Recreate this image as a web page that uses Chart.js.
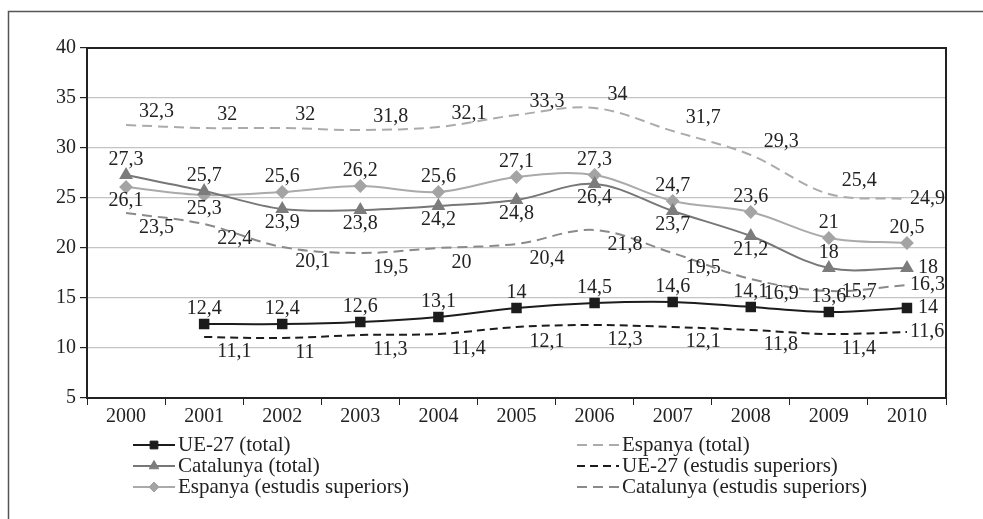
<!DOCTYPE html>
<html>
<head>
<meta charset="utf-8">
<script src="https://cdn.jsdelivr.net/npm/chart.js@4.4.0/dist/chart.umd.min.js"></script>
<style>
  html, body { margin: 0; padding: 0; background: #fff; }
  #wrap { width: 983px; height: 519px; }
</style>
</head>
<body>
<div id="wrap"><canvas id="chart" width="983" height="519"></canvas></div>
<script>
// dades llegides del gràfic
const years = ['2000','2001','2002','2003','2004','2005','2006','2007','2008','2009','2010'];
const ueTotal      = [null, 12.4, 12.4, 12.6, 13.1, 14, 14.5, 14.6, 14.1, 13.6, 14];
const espTotal     = [32.3, 32, 32, 31.8, 32.1, 33.3, 34, 31.7, 29.3, 25.4, 24.9];
const catTotal     = [27.3, 25.7, 23.9, 23.8, 24.2, 24.8, 26.4, 23.7, 21.2, 18, 18];
const ueSuperiors  = [null, 11.1, 11, 11.3, 11.4, 12.1, 12.3, 12.1, 11.8, 11.4, 11.6];
const espSuperiors = [26.1, 25.3, 25.6, 26.2, 25.6, 27.1, 27.3, 24.7, 23.6, 21, 20.5];
const catSuperiors = [23.5, 22.4, 20.1, 19.5, 20, 20.4, 21.8, 19.5, 16.9, 15.7, 16.3];
const yTicks = [5, 10, 15, 20, 25, 30, 35, 40];

const FONT = '"Liberation Serif", "DejaVu Serif", serif';

// on va cada etiqueta (def = per defecte, i excepcions per índex)
const labelPlan = [
  { def: 'n', 10: 'e' },                 // UE-27 (total)
  { def: 'ne', 10: 'e' },                // Espanya (total)
  { def: 's', 0: 'n', 1: 'n', 9: 'n', 10: 'e' }, // Catalunya (total)
  { def: 'se', 10: 'e' },                // UE-27 (estudis superiors)
  { def: 'n', 0: 's', 1: 's' },          // Espanya (estudis superiors)
  { def: 'se', 9: 'ex', 10: 'e' }        // Catalunya (estudis superiors)
];

function fmt(v) { return String(v).replace('.', ','); }

const valueLabels = {
  id: 'valueLabels',
  afterDatasetsDraw(chart) {
    const ctx = chart.ctx;
    ctx.save();
    ctx.font = '20px ' + FONT;
    ctx.fillStyle = '#222';
    ctx.textBaseline = 'middle';
    chart.data.datasets.forEach((ds, di) => {
      const meta = chart.getDatasetMeta(di);
      const plan = labelPlan[di];
      const endDx = ds.pointRadius > 0 ? 11 : 3;
      meta.data.forEach((pt, i) => {
        const v = ds.data[i];
        if (v === null || v === undefined) return;
        const pos = plan[i] || plan.def;
        const txt = fmt(v);
        let x = pt.x, y = pt.y;
        ctx.textAlign = 'center';
        if (pos === 'n') { y -= 15; }
        else if (pos === 's') { y += 14; }
        else if (pos === 'ne') { ctx.textAlign = 'left'; x += 13; y -= 13; }
        else if (pos === 'se') { ctx.textAlign = 'left'; x += 13; y += 15; }
        else if (pos === 'ex') { ctx.textAlign = 'left'; x += 13; y += 1; }
        else if (pos === 'e') { ctx.textAlign = 'left'; x += endDx; }
        ctx.fillText(txt, x, y);
      });
    });
    ctx.restore();
  }
};

// marc exterior, vora superior/dreta i llegenda en dues columnes
const frameAndLegend = {
  id: 'frameAndLegend',
  beforeDraw(chart) {
    const ctx = chart.ctx;
    ctx.save();
    ctx.fillStyle = '#fff';
    ctx.fillRect(0, 0, chart.width, chart.height);
    ctx.restore();
  },
  afterDraw(chart) {
    const ctx = chart.ctx;
    const a = chart.chartArea;
    ctx.save();
    ctx.strokeStyle = '#555';
    ctx.lineWidth = 1.5;
    ctx.beginPath();
    ctx.moveTo(8.5, chart.height);
    ctx.lineTo(8.5, 11.5);
    ctx.lineTo(chart.width, 11.5);
    ctx.stroke();

    ctx.strokeStyle = '#222';
    ctx.lineWidth = 2;
    ctx.beginPath();
    ctx.moveTo(a.left, a.top);
    ctx.lineTo(a.right, a.top);
    ctx.lineTo(a.right, a.bottom);
    ctx.stroke();

    const cols = [133, 577];
    const rows = [445, 466, 487];
    ctx.font = '21px ' + FONT;
    ctx.textBaseline = 'middle';
    ctx.textAlign = 'left';
    chart.data.datasets.forEach((ds, i) => {
      const x = cols[i % 2], y = rows[Math.floor(i / 2)];
      ctx.save();
      ctx.strokeStyle = ds.borderColor;
      ctx.lineWidth = ds.borderWidth;
      ctx.setLineDash(ds.borderDash || []);
      ctx.beginPath();
      ctx.moveTo(x, y);
      ctx.lineTo(x + 42, y);
      ctx.stroke();
      ctx.restore();
      if (ds.pointRadius > 0) {
        ctx.save();
        ctx.fillStyle = ds.pointBackgroundColor;
        ctx.strokeStyle = ds.pointBorderColor;
        ctx.lineWidth = 1;
        Chart.helpers.drawPoint(ctx, { pointStyle: ds.pointStyle, radius: ds.pointRadius - 0.5, borderWidth: 1 }, x + 21, y);
        ctx.restore();
      }
      ctx.fillStyle = '#222';
      ctx.fillText(ds.label, x + 45, y);
    });
    ctx.restore();
  }
};

const datasets = [
  { label: 'UE-27 (total)', data: ueTotal, borderColor: '#1c1c1c', borderWidth: 2,
    pointStyle: 'rect', pointRadius: 6, pointBackgroundColor: '#1c1c1c', pointBorderColor: '#1c1c1c' },
  { label: 'Espanya (total)', data: espTotal, borderColor: '#ababab', borderWidth: 2,
    borderDash: [10, 6], pointRadius: 0 },
  { label: 'Catalunya (total)', data: catTotal, borderColor: '#777777', borderWidth: 2,
    pointStyle: 'triangle', pointRadius: 6, pointBackgroundColor: '#7c7c7c', pointBorderColor: '#7c7c7c' },
  { label: 'UE-27 (estudis superiors)', data: ueSuperiors, borderColor: '#1c1c1c', borderWidth: 2,
    borderDash: [8, 5], pointRadius: 0 },
  { label: 'Espanya (estudis superiors)', data: espSuperiors, borderColor: '#aaaaaa', borderWidth: 2,
    pointStyle: 'rectRot', pointRadius: 5.5, pointBackgroundColor: '#a4a4a4', pointBorderColor: '#a4a4a4' },
  { label: 'Catalunya (estudis superiors)', data: catSuperiors, borderColor: '#8a8a8a', borderWidth: 2,
    borderDash: [10, 6], pointRadius: 0 }
];
datasets.forEach(d => { d.tension = 0.35; d.fill = false; d.spanGaps = false; d.pointHoverRadius = d.pointRadius; });

new Chart(document.getElementById('chart'), {
  type: 'line',
  data: { labels: years, datasets: datasets },
  options: {
    responsive: false,
    animation: false,
    devicePixelRatio: 1,
    layout: { padding: { left: 0, top: 48, right: 37, bottom: 91 } },
    plugins: {
      legend: { display: false },
      tooltip: { enabled: false }
    },
    scales: {
      x: {
        offset: true,
        grid: { offset: true, drawOnChartArea: false, drawTicks: true, tickLength: 7, tickColor: '#222' },
        border: { color: '#222', width: 2 },
        ticks: { color: '#222', font: { family: FONT, size: 20 }, padding: 0, maxRotation: 0 },
        afterFit(s) { s.height = 30; }
      },
      y: {
        min: 5, max: 40,
        afterBuildTicks(s) { s.ticks = yTicks.map(v => ({ value: v })); },
        grid: { color: '#c4c4c4', lineWidth: 1.2, tickLength: 7, tickColor: '#222' },
        border: { color: '#222', width: 2 },
        ticks: { color: '#222', font: { family: FONT, size: 20 }, padding: 4 },
        afterFit(s) { s.width = 87; }
      }
    }
  },
  plugins: [frameAndLegend, valueLabels]
});
</script>
</body>
</html>
